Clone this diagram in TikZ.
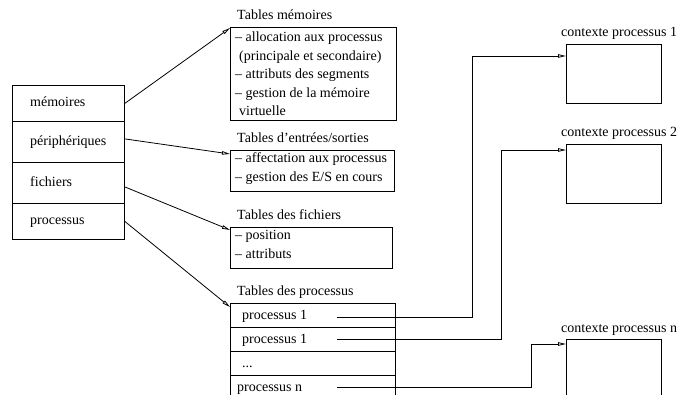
\documentclass[tikz,border=0pt]{standalone}
\usepackage{fontspec}
\setmainfont{Liberation Serif}
\usetikzlibrary{arrows.meta}
\begin{document}
\begin{tikzpicture}[x=1pt,y=-1pt,
  every node/.style={font=\fontsize{14}{18.5}\selectfont},
  frame/.style={draw, line width=0.8pt, inner sep=0pt, anchor=north west},
  txt/.style={inner sep=0pt, text height=10pt, text depth=3pt, anchor=west},
  para/.style={inner sep=0pt, align=left, anchor=north west},
  arr/.style={line width=0.8pt, -{Triangle[open,length=8pt,width=3.5pt]}},
  wire/.style={line width=0.8pt}]
\useasboundingbox (0,0) rectangle (680,395);

% system table (left column)
\node[frame, minimum width=112pt, minimum height=36pt] (mem) at (12,85) {};
\node[frame, minimum width=112pt, minimum height=41pt] (per) at (12,121) {};
\node[frame, minimum width=112pt, minimum height=41pt] (fic) at (12,162) {};
\node[frame, minimum width=112pt, minimum height=36pt] (pro) at (12,203) {};
\node[txt] (memt) at ([xshift=18pt]mem.west) {mémoires};
\node[txt] (pert) at ([xshift=18pt]per.west) {périphériques};
\node[txt] (fict) at ([xshift=18pt]fic.west) {fichiers};
\node[txt] (prot) at ([xshift=18pt]pro.west) {processus};

% memory tables
\node[frame, minimum width=166pt, minimum height=93pt] (tm) at (230,27) {};
\node[txt] (tmt) at ([xshift=7pt,yshift=11pt]tm.north west) {Tables mémoires};
\node[para] (tmc) at (235,31.7) {– allocation aux processus\\
\hspace*{4pt}(principale et secondaire)\\
– attributs des segments\\
– gestion de la mémoire\\
\hspace*{4pt}virtuelle};

% I/O tables
\node[frame, minimum width=164pt, minimum height=41pt] (te) at (230,150) {};
\node[txt] (tet) at ([xshift=7pt,yshift=11pt]te.north west) {Tables d’entrées/sorties};
\node[para] (tec) at (235,152.7) {– affectation aux processus\\
– gestion des E/S en cours};

% file tables
\node[frame, minimum width=162pt, minimum height=41pt] (tf) at (230,227) {};
\node[txt] (tft) at ([xshift=7pt,yshift=11pt]tf.north west) {Tables des fichiers};
\node[para] (tfc) at (235,230.5) {– position\\
– attributs};

% process table
\node[frame, minimum width=165pt, minimum height=24pt] (pr1) at (230,303) {};
\node[frame, minimum width=165pt, minimum height=24pt] (pr2) at (230,327) {};
\node[frame, minimum width=165pt, minimum height=24pt] (pr3) at (230,351) {};
\node[frame, minimum width=165pt, minimum height=30pt] (prn) at (230,375) {};
\node[txt] (tpt) at ([xshift=7pt,yshift=11pt]pr1.north west) {Tables des processus};
\node[txt] (pr1t) at (242,316) {processus 1};
\node[txt] (pr2t) at (242,340) {processus 1};
\node[txt] (pr3t) at (242,364) {...};
\node[txt] (prnt) at (237,388) {processus n};
\coordinate (p1) at (337,317);
\coordinate (p2) at (337,339);
\coordinate (pn) at (337,387);

% process contexts
\node[frame, minimum width=95pt, minimum height=59pt] (ctx1) at (566,44) {};
\node[frame, minimum width=95pt, minimum height=59pt] (ctx2) at (566,144) {};
\node[frame, minimum width=95pt, minimum height=70pt] (ctxn) at (566,339) {};
\node[txt] (ctx1t) at (561,33) {contexte processus 1};
\node[txt] (ctx2t) at (561,133) {contexte processus 2};
\node[txt] (ctxnt) at (561,329) {contexte processus n};

% links from the system table
\draw[arr] (mem.east) -- ([yshift=-1pt]tm.north west);
\draw[arr] ([yshift=3pt]per.east) -- ([yshift=-4pt]te.north west);
\draw[arr] ([yshift=-4pt]fic.east) -- ([yshift=-3pt]tf.north west);
\draw[arr] (pro.east) -- ([yshift=-4pt]pr1.north west);

% links from the process table to the contexts
\draw[arr] (p1) -- ++(135,0) |- ([yshift=-12pt]ctx1.north west);
\draw[arr] (p2) -- ++(164,0) |- ([yshift=-6pt]ctx2.north west);
\draw[arr] (pn) -- ++(194,0) |- ([yshift=-5pt]ctxn.north west);
\end{tikzpicture}
\end{document}
